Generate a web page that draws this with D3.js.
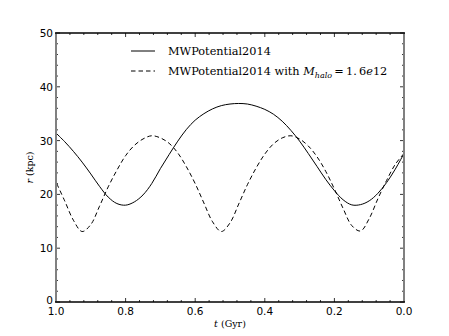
<!DOCTYPE html>
<html>
<head>
<meta charset="utf-8">
<script src="https://cdn.jsdelivr.net/npm/d3@7"></script>
<style>
  body { margin: 0; background: #fff; }
  svg { display: block; }
</style>
</head>
<body>
<div id="chart"></div>
<script>
// time samples (Gyr)
const tValues = [0.000, 0.025, 0.050, 0.075, 0.100, 0.125, 0.150, 0.175, 0.200, 0.225,
                 0.250, 0.275, 0.300, 0.325, 0.350, 0.375, 0.400, 0.425, 0.450, 0.475,
                 0.500, 0.525, 0.550, 0.575, 0.600, 0.625, 0.650, 0.675, 0.700, 0.725,
                 0.750, 0.775, 0.800, 0.825, 0.850, 0.875, 0.900, 0.925, 0.950, 0.975, 1.000];

// r (kpc) for MWPotential2014
const rDefault = [27.6, 24.7, 22.2, 20.2, 18.8, 18.1, 18.05, 19.0, 20.7, 22.8,
                  25.2, 27.6, 29.9, 31.9, 33.6, 34.9, 35.8, 36.4, 36.8, 36.9,
                  36.8, 36.5, 35.9, 35.0, 33.8, 32.1, 29.9, 27.4, 24.8, 22.0,
                  19.9, 18.6, 18.0, 18.3, 19.5, 21.5, 23.8, 26.0, 28.0, 29.8, 31.4];

// r (kpc) for MWPotential2014 with M_halo = 1.6e12
const rHeavy = [27.6, 25.6, 22.6, 19.2, 15.5, 13.2, 14.2, 17.4, 21.0, 24.3,
                27.0, 29.0, 30.3, 30.9, 30.5, 29.4, 27.5, 24.9, 21.8, 18.2,
                14.7, 13.1, 14.9, 18.4, 22.0, 25.1, 27.7, 29.5, 30.5, 30.9,
                30.3, 29.1, 27.2, 24.5, 21.4, 17.8, 14.4, 13.1, 15.2, 18.8, 22.3];

const xTicks = [1.0, 0.8, 0.6, 0.4, 0.2, 0.0];
const yTicks = [0, 10, 20, 30, 40, 50];

const W = 449, H = 336;
const mLeft = 56, mRight = 404, mTop = 33, mBottom = 302;

const svg = d3.select("#chart").append("svg")
  .attr("width", W).attr("height", H);

const x = d3.scaleLinear().domain([1, 0]).range([mLeft, mRight]);
const y = d3.scaleLinear().domain([0, 50]).range([mBottom, mTop]);

// ── curves ──
const line = vals => d3.line()
  .x((d, i) => x(tValues[i]))
  .y(d => y(d))
  .curve(d3.curveCatmullRom)(vals);

svg.append("path").attr("d", line(rDefault))
  .attr("fill", "none").attr("stroke", "#000").attr("stroke-width", 1);

svg.append("path").attr("d", line(rHeavy))
  .attr("fill", "none").attr("stroke", "#000").attr("stroke-width", 1)
  .attr("stroke-dasharray", "4.5,3");

// ── ticks (inward, all four sides) ──
const xMinor = d3.range(0, 1.0001, 0.04).filter(v => !xTicks.some(t => Math.abs(t - v) < 1e-6));
const yMinor = d3.range(0, 50.001, 2).filter(v => v % 10 !== 0);

const tickG = svg.append("g").attr("stroke", "#000").attr("stroke-width", 0.8);
function xTick(v, len) {
  tickG.append("line").attr("x1", x(v)).attr("x2", x(v)).attr("y1", mBottom).attr("y2", mBottom - len);
  tickG.append("line").attr("x1", x(v)).attr("x2", x(v)).attr("y1", mTop).attr("y2", mTop + len);
}
function yTick(v, len) {
  tickG.append("line").attr("y1", y(v)).attr("y2", y(v)).attr("x1", mLeft).attr("x2", mLeft + len);
  tickG.append("line").attr("y1", y(v)).attr("y2", y(v)).attr("x1", mRight).attr("x2", mRight - len);
}
xTicks.forEach(v => xTick(v, 4));
xMinor.forEach(v => xTick(v, 2));
yTicks.forEach(v => yTick(v, 4));
yMinor.forEach(v => yTick(v, 2));

// ── spines ──
svg.append("line").attr("x1", mLeft).attr("x2", mLeft).attr("y1", mTop).attr("y2", mBottom)
  .attr("stroke", "#808080").attr("stroke-width", 2);
svg.append("line").attr("x1", mRight).attr("x2", mRight).attr("y1", mTop).attr("y2", mBottom)
  .attr("stroke", "#808080").attr("stroke-width", 2);
svg.append("line").attr("x1", mLeft - 1).attr("x2", mRight + 1).attr("y1", mTop).attr("y2", mTop)
  .attr("stroke", "#000").attr("stroke-width", 1.3);
svg.append("line").attr("x1", mLeft - 1).attr("x2", mRight + 1).attr("y1", mBottom).attr("y2", mBottom)
  .attr("stroke", "#000").attr("stroke-width", 1.3);

// ── tick labels ──
const tickFont = "DejaVu Sans, sans-serif";
svg.append("g").selectAll("text").data(xTicks).join("text")
  .attr("x", d => x(d)).attr("y", mBottom + 13)
  .attr("text-anchor", "middle")
  .attr("font-family", tickFont).attr("font-size", 10.5).attr("fill", "#000")
  .text(d => d.toFixed(1));

svg.append("g").selectAll("text").data(yTicks).join("text")
  .attr("x", mLeft - 3).attr("y", d => y(d) + (d === 0 ? 2 : 4))
  .attr("text-anchor", "end")
  .attr("font-family", tickFont).attr("font-size", 10.5).attr("fill", "#000")
  .text(d => d);

// ── axis labels ──
const serif = "DejaVu Serif, serif";
const xl = svg.append("text").attr("x", (mLeft + mRight) / 2).attr("y", 327)
  .attr("text-anchor", "middle").attr("font-family", serif).attr("font-size", 9.5);
xl.append("tspan").attr("font-style", "italic").text("t");
xl.append("tspan").text(" (Gyr)");

const yl = svg.append("text")
  .attr("transform", `translate(33,${(mTop + mBottom) / 2}) rotate(-90)`)
  .attr("text-anchor", "middle").attr("font-family", serif).attr("font-size", 9.5);
yl.append("tspan").attr("font-style", "italic").text("r");
yl.append("tspan").text(" (kpc)");

// ── legend ──
const legend = svg.append("g");
legend.append("line").attr("x1", 131).attr("x2", 155).attr("y1", 51).attr("y2", 51)
  .attr("stroke", "#000").attr("stroke-width", 1);
legend.append("line").attr("x1", 131).attr("x2", 155).attr("y1", 71).attr("y2", 71)
  .attr("stroke", "#000").attr("stroke-width", 1).attr("stroke-dasharray", "4.5,3");

legend.append("text").attr("x", 168).attr("y", 55)
  .attr("font-family", serif).attr("font-size", 11.3).text("MWPotential2014");

const l2 = legend.append("text").attr("x", 168).attr("y", 75)
  .attr("font-family", serif).attr("font-size", 11.3);
l2.append("tspan").text("MWPotential2014 with ");
l2.append("tspan").attr("font-style", "italic").text("M");
l2.append("tspan").attr("font-style", "italic").attr("font-size", 8).attr("dy", 2.5).text("halo");
l2.append("tspan").attr("dy", -2.5).text("\u2009=\u20091.\u20096");
l2.append("tspan").attr("font-style", "italic").text("e");
l2.append("tspan").text("12");
</script>
</body>
</html>
